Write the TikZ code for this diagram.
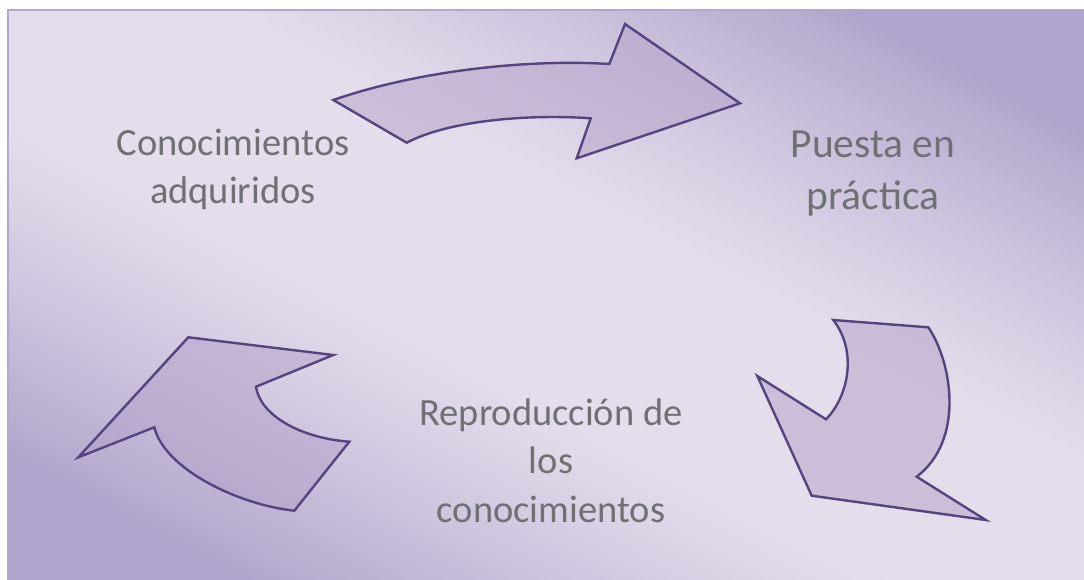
\documentclass[tikz,border=0pt]{standalone}
\usepackage{fontspec}
\setmainfont{Carlito}
\definecolor{bgdark}{RGB}{177,164,204}
\definecolor{bglight}{RGB}{228,222,236}
\definecolor{frameline}{RGB}{180,166,206}
\definecolor{arrowfill}{RGB}{177,160,200}
\definecolor{arrowline}{RGB}{86,68,126}
\definecolor{labelgrey}{RGB}{112,111,116}
\tikzset{
  cyclearrow/.style={fill=arrowfill, fill opacity=0.5, draw=arrowline, draw opacity=1, line width=2.4pt, line join=miter},
  labeltext/.style={text=labelgrey, align=center, inner sep=0pt, anchor=base}
}
\begin{document}
\begin{tikzpicture}[x=1pt,y=-1pt]
\useasboundingbox (0,0) rectangle (1084,579);
% background gradient
\begin{scope}
  \clip (7,9) rectangle (1090,590);
  \fill[bgdark] (7,9) rectangle (1090,590);
  \foreach \k in {0,...,62}{
    \pgfmathsetmacro{\w}{400-5*\k}
    \pgfmathsetmacro{\p}{100-100*((\w-90)/310)^1.2}
    \fill[color=bglight!\p!bgdark, rotate around={-27.89:(545.5,294)}]
      (-150,{294-\w}) rectangle (1250,{294+\w});
  }
\end{scope}
\draw[frameline, line width=2.5pt] (8.2,10.2) rectangle (1095,595);

% arrows
\path[cyclearrow] (333.3,100) .. controls (420,70) and (530,59) .. (609.3,64)
  -- (625,24) -- (740,103.3) -- (576.7,158.3) -- (590.7,118.3)
  .. controls (530,114) and (450,120) .. (406.7,142.7) -- cycle;
\path[cyclearrow] (833.3,320) -- (928.3,327.3)
  .. controls (952,362) and (965,440) .. (916.7,476.7)
  -- (985.7,520) -- (811.7,495.7) -- (757.3,376) -- (826,419.3)
  .. controls (848,397) and (858,352) .. cycle;
\path[cyclearrow] (188.3,337.3) -- (333.3,355) -- (256,386.7)
  .. controls (260,415) and (300,438) .. (349.3,441.7)
  -- (294.3,510.7)
  .. controls (240,505) and (165,470) .. (154.3,427.3)
  -- (78.3,457.3) -- cycle;

% labels (anchor base = baseline of the last line)
\node[labeltext, font=\fontsize{38.5}{48}\selectfont] (conoc) at (233,203) {Conocimientos\\adquiridos};
\node[labeltext, font=\fontsize{41.5}{52}\selectfont] (puesta) at (873,209) {Puesta en\\práctica};
\node[labeltext, font=\fontsize{38.5}{48.5}\selectfont] (repro) at (551,522) {Reproducción de\\los\\conocimientos};
\end{tikzpicture}
\end{document}
